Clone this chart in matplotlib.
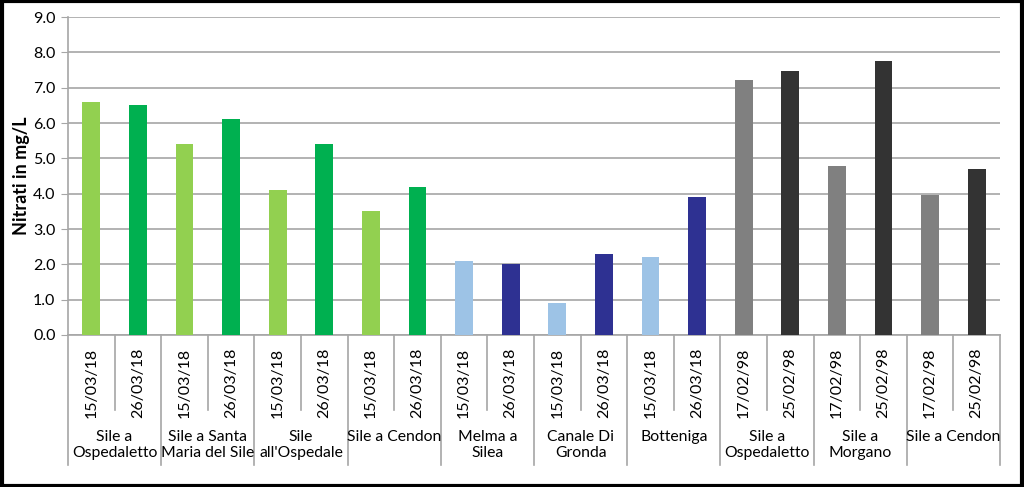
import numpy as np
import matplotlib.pyplot as plt
import matplotlib.transforms as mtransforms

plt.rcParams['font.family'] = ['Lato', 'DejaVu Sans']

# Dati
stazioni = ["Sile a\nOspedaletto", "Sile a Santa\nMaria del Sile", "Sile\nall'Ospedale",
            "Sile a Cendon", "Melma a\nSilea", "Canale Di\nGronda", "Botteniga",
            "Sile a\nOspedaletto", "Sile a\nMorgano", "Sile a Cendon"]
date = ["15/03/18", "26/03/18"] * 7 + ["17/02/98", "25/02/98"] * 3
nitrati = [6.6, 6.5, 5.4, 6.1, 4.1, 5.4, 3.5, 4.2,
           2.1, 2.0, 0.9, 2.3, 2.2, 3.9,
           7.22, 7.48, 4.78, 7.76, 3.95, 4.7]
colori = ["#92D050", "#00B050"] * 4 + ["#9DC3E6", "#2E3192"] * 3 + ["#808080", "#333333"] * 3

fig = plt.figure(figsize=(10.24, 4.87), dpi=100)
ax = fig.add_axes([68 / 1024, 1 - 335 / 487, 932 / 1024, 318 / 487])

x = np.arange(len(nitrati))
ax.bar(x, nitrati, width=0.38, color=colori, zorder=3)

ax.set_xlim(-0.5, len(nitrati) - 0.5)
ax.set_ylim(0, 9)
ax.set_yticks(np.arange(0, 9.1, 1.0))
ax.set_yticklabels([f"{v:.1f}" for v in np.arange(0, 9.1, 1.0)], fontsize=11.5)
ax.yaxis.grid(True, color="#A6A6A6", lw=1.2, zorder=0)
ax.tick_params(axis="y", length=5, color="#A6A6A6", pad=4)
ax.set_ylabel("Nitrati in mg/L", fontsize=13, fontweight="bold", labelpad=2)

for s in ["top", "right"]:
    ax.spines[s].set_visible(False)
ax.spines["left"].set_color("#A6A6A6")
ax.spines["bottom"].set_color("#A6A6A6")
ax.spines["left"].set_linewidth(1.2)
ax.spines["bottom"].set_linewidth(1.2)

ax.set_xticks(x)
ax.set_xticklabels(date, rotation=90, fontsize=11.5)
ax.tick_params(axis="x", length=0, pad=9)

# separatori e etichette di gruppo
trans = mtransforms.blended_transform_factory(ax.transData, ax.transAxes)
for i in range(len(nitrati) + 1):
    xs = i - 0.5
    basso = -0.41 if i % 2 == 0 else -0.237
    ax.plot([xs, xs], [0, basso], color="#A6A6A6", lw=1.2, transform=trans, clip_on=False)
for g, nome in enumerate(stazioni):
    ax.text(2 * g + 0.5, -0.30, nome, transform=trans, ha="center", va="top",
            fontsize=11.3, linespacing=1.15)

# cornice esterna
fig.patches.append(plt.Rectangle((0.002, 0.003), 0.996, 0.994, transform=fig.transFigure,
                                 fill=False, edgecolor="black", lw=3))

fig.savefig("out.png", dpi=100)
